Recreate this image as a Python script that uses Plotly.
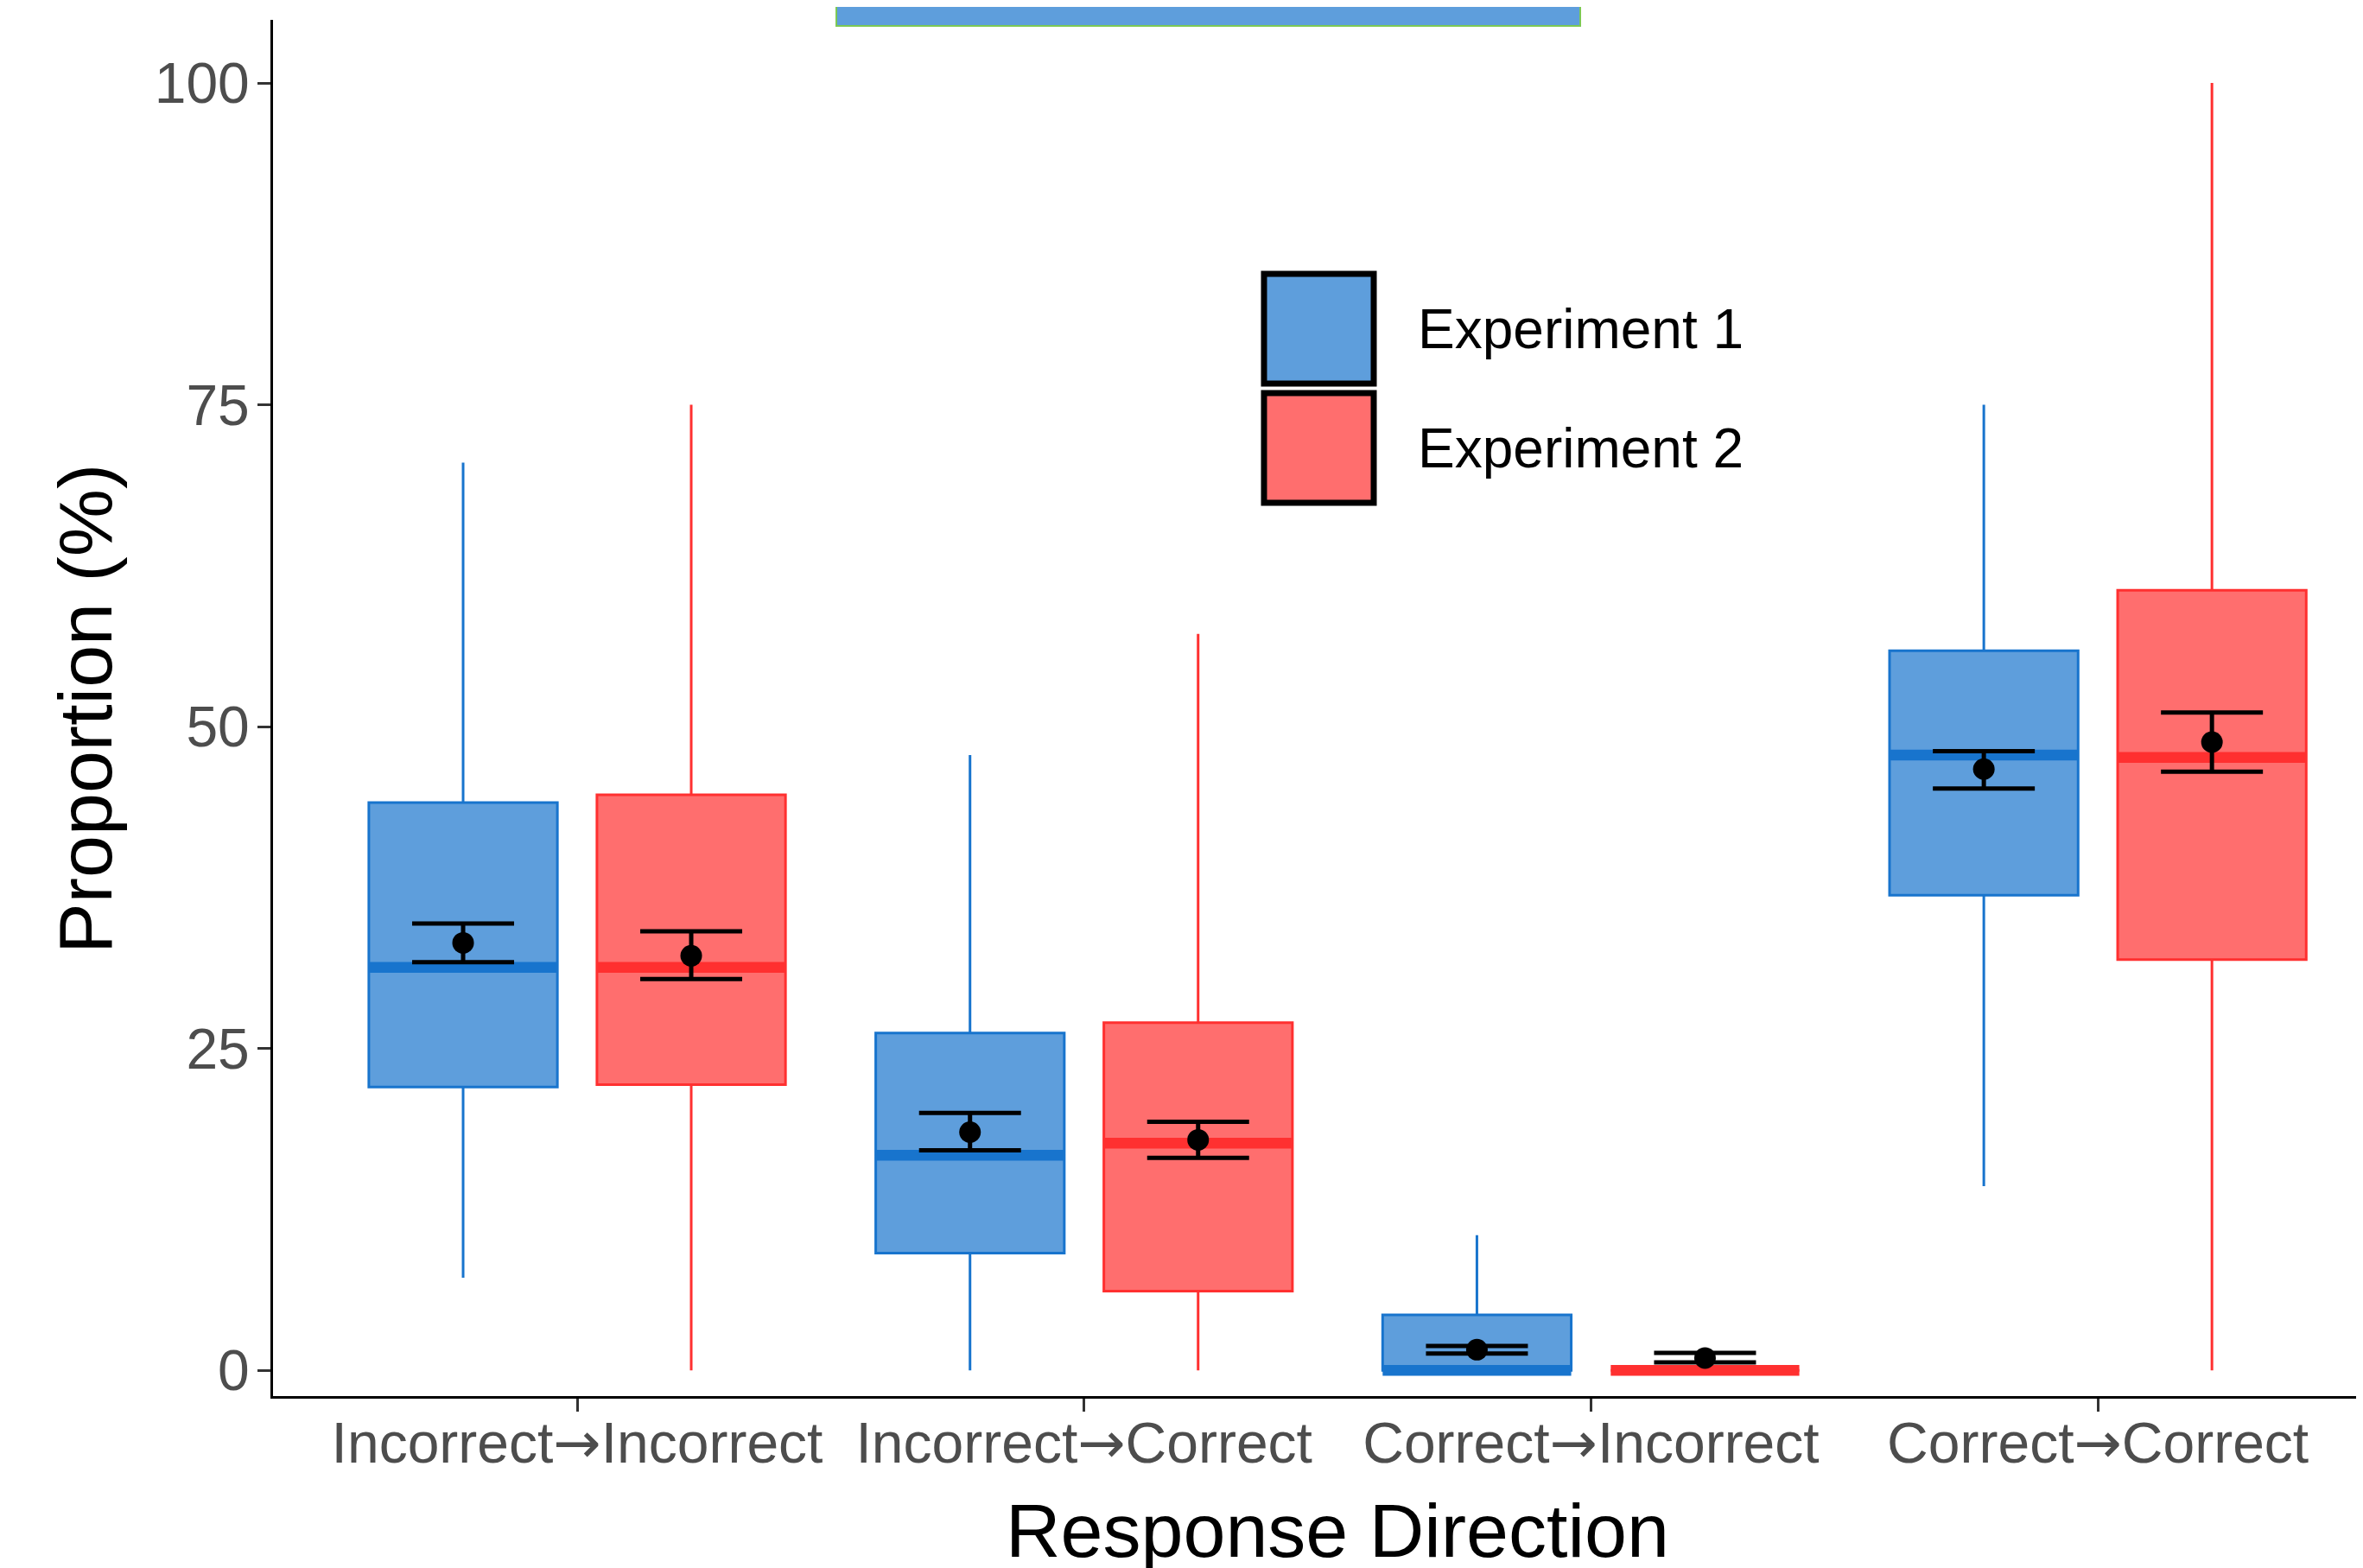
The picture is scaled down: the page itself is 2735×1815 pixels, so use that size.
import plotly.graph_objects as go

# ---------------- data ----------------
categories = ["Incorrect→Incorrect", "Incorrect→Correct", "Correct→Incorrect", "Correct→Correct"]
series_names = ["Experiment 1", "Experiment 2"]

exp1_lower = [7.2, 0.0, 0.0, 14.3]
exp1_q1 = [22.0, 9.1, 0.0, 36.9]
exp1_median = [31.3, 16.7, 0.0, 47.8]
exp1_q3 = [44.1, 26.2, 4.3, 55.9]
exp1_upper = [70.5, 47.8, 10.5, 75.0]
exp1_mean = [33.2, 18.5, 1.6, 46.7]
exp1_err_hi = [34.7, 20.0, 1.9, 48.1]
exp1_err_lo = [31.7, 17.1, 1.3, 45.2]

exp2_lower = [0.0, 0.0, 0.0, 0.0]
exp2_q1 = [22.2, 6.15, 0.0, 31.9]
exp2_median = [31.3, 17.65, 0.0, 47.6]
exp2_q3 = [44.7, 27.0, 0.0, 60.6]
exp2_upper = [75.0, 57.2, 0.0, 100.0]
exp2_mean = [32.2, 17.9, 0.96, 48.8]
exp2_err_hi = [34.1, 19.3, 1.36, 51.1]
exp2_err_lo = [30.4, 16.5, 0.62, 46.5]

y_ticks = [0, 25, 50, 75, 100]

# ---------------- style ----------------
OFF = 8  # default page body margin
PAGE_W, PAGE_H = 2735, 1815
W, H = PAGE_W - OFF, PAGE_H - OFF
# plot area in page pixels
L, R, T, B = 316, 2735, 23, 1616
FONT = "Liberation Sans"
LINE_COLORS = ["#1874CD", "#FF3030"]
FILL_COLORS = ["#5E9EDC", "#FF6E6E"]
DODGE = 0.225
BOX_W = 0.372


def px_x(p):
    return (p - L) / (R - L)


def px_y(p):
    return (B - p) / (B - T)


def arrow_label(t):
    a, b = t.split("→")
    return a + "<span style='font-family:DejaVu Sans'>→</span>" + b


series = [
    dict(lower=exp1_lower, q1=exp1_q1, median=exp1_median, q3=exp1_q3, upper=exp1_upper,
         mean=exp1_mean, hi=exp1_err_hi, lo=exp1_err_lo),
    dict(lower=exp2_lower, q1=exp2_q1, median=exp2_median, q3=exp2_q3, upper=exp2_upper,
         mean=exp2_mean, hi=exp2_err_hi, lo=exp2_err_lo),
]

fig = go.Figure()
base = list(range(1, len(categories) + 1))

for s_i, s in enumerate(series):
    shift = -DODGE if s_i == 0 else DODGE
    xs = [b + shift for b in base]
    fig.add_trace(go.Box(
        x=xs, q1=s["q1"], median=s["median"], q3=s["q3"],
        lowerfence=s["lower"], upperfence=s["upper"],
        width=BOX_W, fillcolor=FILL_COLORS[s_i],
        line=dict(color=LINE_COLORS[s_i], width=3),
        whiskerwidth=0, boxpoints=False, name=series_names[s_i], showlegend=False,
    ))

for s_i, s in enumerate(series):
    shift = -DODGE if s_i == 0 else DODGE
    xs = [b + shift for b in base]
    mx, my = [], []
    for x, m in zip(xs, s["median"]):
        mx += [x - BOX_W / 2, x + BOX_W / 2, None]
        my += [m, m, None]
    fig.add_trace(go.Scatter(x=mx, y=my, mode="lines",
                             line=dict(color=LINE_COLORS[s_i], width=12.5),
                             showlegend=False, hoverinfo="skip"))

for s_i, s in enumerate(series):
    shift = -DODGE if s_i == 0 else DODGE
    xs = [b + shift for b in base]
    fig.add_trace(go.Scatter(
        x=xs, y=s["mean"], mode="markers",
        marker=dict(color="black", size=25),
        error_y=dict(type="data", symmetric=False,
                     array=[h - m for h, m in zip(s["hi"], s["mean"])],
                     arrayminus=[m - l for m, l in zip(s["mean"], s["lo"])],
                     color="black", thickness=5, width=59),
        showlegend=False,
    ))

shapes = []
# stray blue bar at the top
shapes.append(dict(type="rect", xref="paper", yref="paper",
                   x0=px_x(968), x1=px_x(1829), y0=px_y(30), y1=px_y(-10),
                   fillcolor="#5E9EDC", line=dict(color="#7CC855", width=2), layer="above"))
# legend swatches
leg_tops = [317, 455]
for i in range(2):
    shapes.append(dict(type="rect", xref="paper", yref="paper",
                       x0=px_x(1463), x1=px_x(1590),
                       y0=px_y(leg_tops[i] + 127), y1=px_y(leg_tops[i]),
                       fillcolor=FILL_COLORS[i], line=dict(color="black", width=7), layer="above"))

annotations = []
for i in range(2):
    annotations.append(dict(text=series_names[i], xref="paper", yref="paper",
                            x=px_x(1639), y=px_y(leg_tops[i] + 63.5),
                            xanchor="left", yanchor="middle", showarrow=False,
                            font=dict(family=FONT, size=64, color="black")))
annotations.append(dict(text="Response Direction", xref="x", yref="paper",
                        x=2.5, y=px_y(1772), xanchor="center", yanchor="middle",
                        showarrow=False, font=dict(family=FONT, size=88, color="black")))
annotations.append(dict(text="Proportion (%)", xref="paper", yref="paper",
                        x=px_x(98), y=px_y(820), xanchor="center", yanchor="middle",
                        textangle=-90, showarrow=False,
                        font=dict(family=FONT, size=88, color="black")))

fig.update_layout(
    width=W, height=H,
    margin=dict(l=L - OFF, r=PAGE_W - R, t=T - OFF, b=H - (B - OFF), pad=0),
    plot_bgcolor="white", paper_bgcolor="white",
    boxmode="overlay",
    showlegend=False,
    shapes=shapes, annotations=annotations,
    font=dict(family=FONT),
)
fig.update_xaxes(
    range=[0.4, 4.523], tickmode="array", tickvals=base,
    ticktext=[arrow_label(c) for c in categories],
    showgrid=False, zeroline=False, showline=True, linecolor="black", linewidth=3,
    ticks="outside", ticklen=15, tickwidth=2.5, tickcolor="#333333",
    ticklabelstandoff=-20,
    tickfont=dict(family=FONT, size=66, color="#4D4D4D"),
)
fig.update_yaxes(
    range=[-2.0, 104.9], tickmode="array", tickvals=y_ticks,
    showgrid=False, zeroline=False, showline=True, linecolor="black", linewidth=3,
    ticks="outside", ticklen=15, tickwidth=2.5, tickcolor="#333333",
    ticklabelstandoff=-4,
    tickfont=dict(family=FONT, size=66, color="#4D4D4D"),
)

fig.write_html("out.html")
